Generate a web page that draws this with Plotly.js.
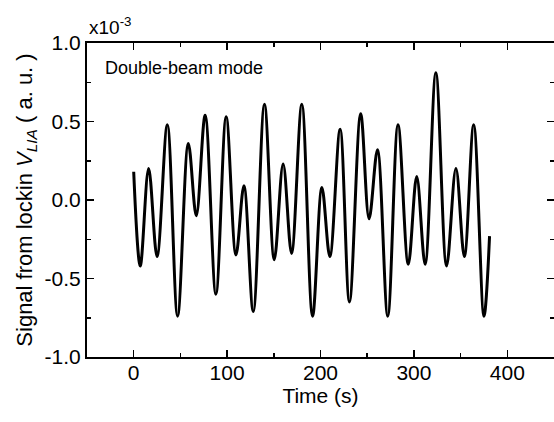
<!DOCTYPE html>
<html>
<head>
<meta charset="utf-8">
<script src="https://cdn.plot.ly/plotly-3.0.1.min.js"></script>
<style>html,body{margin:0;padding:0;background:#fff;}#chart{width:554px;height:422px;}</style>
</head>
<body>
<div id="chart"></div>
<script>
// Time (s) of extrema
const timeS = [0, 7, 16, 25, 36, 47, 58.5, 67, 76.5, 88, 99, 109.5, 118, 128, 140, 150.5, 160, 169, 180, 191.5,
  201.5, 210, 221, 231, 243, 252, 261, 272, 283, 294, 303, 312, 323.5, 335, 345, 354, 364, 375, 381];
// Signal (x10^-3 a.u.)
const signal = [0.18, -0.42, 0.20, -0.36, 0.48, -0.74, 0.36, -0.10, 0.54, -0.60, 0.53, -0.35, 0.09, -0.71, 0.61, -0.38, 0.23, -0.34, 0.61, -0.74,
  0.08, -0.36, 0.45, -0.65, 0.55, -0.12, 0.32, -0.74, 0.48, -0.41, 0.15, -0.41, 0.81, -0.42, 0.20, -0.36, 0.48, -0.74, -0.23];
const xTickVals = [0, 100, 200, 300, 400];
const yTickVals = [-1.0, -0.5, 0.0, 0.5, 1.0];

const font = "Liberation Sans, Arial, Helvetica, sans-serif";

const trace = {
  x: timeS, y: signal, type: 'scatter', mode: 'lines',
  line: {color: '#000', width: 3, shape: 'spline', smoothing: 1},
  hoverinfo: 'skip', showlegend: false
};

const axisCommon = {
  showline: true, linecolor: '#000', linewidth: 2, mirror: 'ticks',
  ticks: 'inside', ticklen: 7, tickwidth: 1.5, tickcolor: '#000',
  showgrid: false, zeroline: false,
  tickfont: {family: font, size: 21, color: '#000'}
};

const layout = {
  width: 554, height: 422,
  margin: {l: 87, r: 0, t: 43, b: 65},
  paper_bgcolor: '#fff', plot_bgcolor: '#fff',
  xaxis: Object.assign({}, axisCommon, {
    range: [-50, 450], tickvals: xTickVals, ticktext: xTickVals.map(String),
    ticklabelstandoff: -4,
    minor: {ticks: 'inside', dtick: 50, tick0: 0, ticklen: 4, tickwidth: 1.5, tickcolor: '#000'},
    title: {text: 'Time (s)', font: {family: font, size: 21, color: '#000'}, standoff: 0}
  }),
  yaxis: Object.assign({}, axisCommon, {
    range: [-1.0, 1.0], tickvals: yTickVals, ticktext: yTickVals.map(v => v.toFixed(1)),
    minor: {ticks: 'inside', dtick: 0.25, tick0: 0, ticklen: 4, tickwidth: 1.5, tickcolor: '#000'},
    title: {text: 'Signal from lockin <i>V</i><sub><i>LIA</i></sub> ( a. u. )', font: {family: font, size: 22, color: '#000'}, standoff: 6}
  }),
  annotations: [
    {xref: 'paper', yref: 'paper', x: 0.0, y: 1.0, xanchor: 'left', yanchor: 'bottom', yshift: 3, xshift: 0,
     text: 'x10<sup>-3</sup>', showarrow: false, font: {family: font, size: 19, color: '#000'}},
    {xref: 'paper', yref: 'paper', x: 0.035, y: 0.92, xanchor: 'left', yanchor: 'middle',
     text: 'Double-beam mode', showarrow: false, font: {family: font, size: 18, color: '#000'}}
  ]
};

Plotly.newPlot('chart', [trace], layout, {displayModeBar: false, staticPlot: true});
</script>
</body>
</html>
